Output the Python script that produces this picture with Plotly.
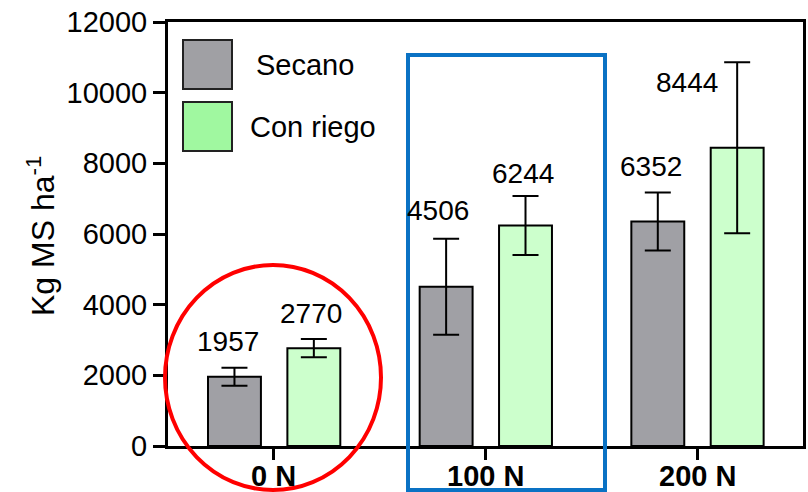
import plotly.graph_objects as go

# Dry-matter yield by nitrogen dose, rainfed vs irrigated
doses = ["0 N", "100 N", "200 N"]
secano = [1957, 4506, 6352]
riego = [2770, 6244, 8444]
secano_err = [255, 1360, 820]
riego_err = [255, 835, 2420]
y_ticks = [0, 2000, 4000, 6000, 8000, 10000, 12000]

FONT = "Liberation Sans, Arial, sans-serif"
GRAY = "#a0a0a5"
GREEN = "#ccffcc"
W, H = 808, 492
L, R, T, B = 168, 5, 22, 46
PW, PH = W - L - R, H - T - B


def px(x):
    return (x - L) / PW


def py(y):
    return (H - B - y) / PH


xs = list(range(len(doses)))
BAR_W = 0.25
OFF_S, OFF_R = -0.311, 0.064

fig = go.Figure()
fig.add_trace(go.Bar(
    x=xs, y=secano, width=BAR_W, offset=OFF_S, name="Secano",
    marker=dict(color=GRAY, line=dict(color="black", width=2)),
    error_y=dict(type="data", array=secano_err, color="black", thickness=2, width=13),
))
fig.add_trace(go.Bar(
    x=xs, y=riego, width=BAR_W, offset=OFF_R, name="Con riego",
    marker=dict(color=GREEN, line=dict(color="black", width=2)),
    error_y=dict(type="data", array=riego_err, color="black", thickness=2, width=13),
))

# value labels: pixel nudges from each bar top
shifts_s = [(-6, 35), (-8, 76), (-7, 55)]
shifts_r = [(-3, 35), (-3, 52), (-50, 65)]
annotations = []
for vals, off, shifts in ((secano, OFF_S, shifts_s), (riego, OFF_R, shifts_r)):
    for i, v in enumerate(vals):
        dx, dy = shifts[i]
        annotations.append(dict(
            x=i + off + BAR_W / 2, y=v, xref="x", yref="y", text=str(v),
            showarrow=False, xanchor="center", yanchor="middle",
            xshift=dx, yshift=dy, font=dict(family=FONT, size=28, color="black"),
        ))

# category labels under the axis, set close to the ticks
for i, d in zip(xs, doses):
    annotations.append(dict(
        x=i, y=py(476), xref="x", yref="paper", text=f"<b>{d}</b>",
        showarrow=False, xanchor="center", yanchor="middle",
        font=dict(family=FONT, size=29, color="black"),
    ))

# axis title
annotations.append(dict(
    x=px(41), y=py(236), xref="paper", yref="paper", text="Kg MS ha<sup>-1</sup>",
    textangle=-90, showarrow=False, xanchor="center", yanchor="middle",
    font=dict(family=FONT, size=32, color="black"),
))

# legend entries drawn as boxes with text
legend_items = [("Secano", "#a0a0a4", 40, 89, 254), ("Con riego", "#a0f8a0", 102, 151, 248)]
shapes = []
for label, col, y0, y1, tx in legend_items:
    shapes.append(dict(type="rect", xref="paper", yref="paper",
                       x0=px(183), x1=px(232), y0=py(y1), y1=py(y0),
                       fillcolor=col, line=dict(color="#222222", width=2)))
    annotations.append(dict(
        x=px(tx), y=py((y0 + y1) / 2), xref="paper", yref="paper", text=label,
        showarrow=False, xanchor="left", yanchor="middle",
        font=dict(family=FONT, size=29, color="black"),
    ))

# highlight marks
shapes.append(dict(type="circle", xref="paper", yref="paper",
                   x0=px(165), x1=px(381), y0=py(490), y1=py(265),
                   line=dict(color="#ff0000", width=4), fillcolor="rgba(0,0,0,0)"))
shapes.append(dict(type="rect", xref="paper", yref="paper",
                   x0=px(408), x1=px(605), y0=py(490), y1=py(55),
                   line=dict(color="#0a72c4", width=4), fillcolor="rgba(0,0,0,0)"))

fig.update_layout(
    width=W, height=H,
    margin=dict(l=L, r=R, t=T, b=B, autoexpand=False),
    paper_bgcolor="white", plot_bgcolor="white",
    showlegend=False,
    annotations=annotations, shapes=shapes,
    xaxis=dict(
        range=[-0.5, 2.5], tickvals=xs, showticklabels=False, automargin=False,
        ticks="outside", ticklen=11, tickwidth=3, tickcolor="black",
        showline=True, linecolor="black", linewidth=3, mirror=True,
        showgrid=False, zeroline=False,
    ),
    yaxis=dict(
        range=[0, 12000], tickvals=y_ticks, ticktext=[str(v) for v in y_ticks],
        automargin=False,
        tickfont=dict(family=FONT, size=29, color="black"),
        ticks="outside", ticklen=12, tickwidth=3, tickcolor="black",
        showline=True, linecolor="black", linewidth=3, mirror=True,
        showgrid=False, zeroline=False,
    ),
)

fig.write_html("out.html")
